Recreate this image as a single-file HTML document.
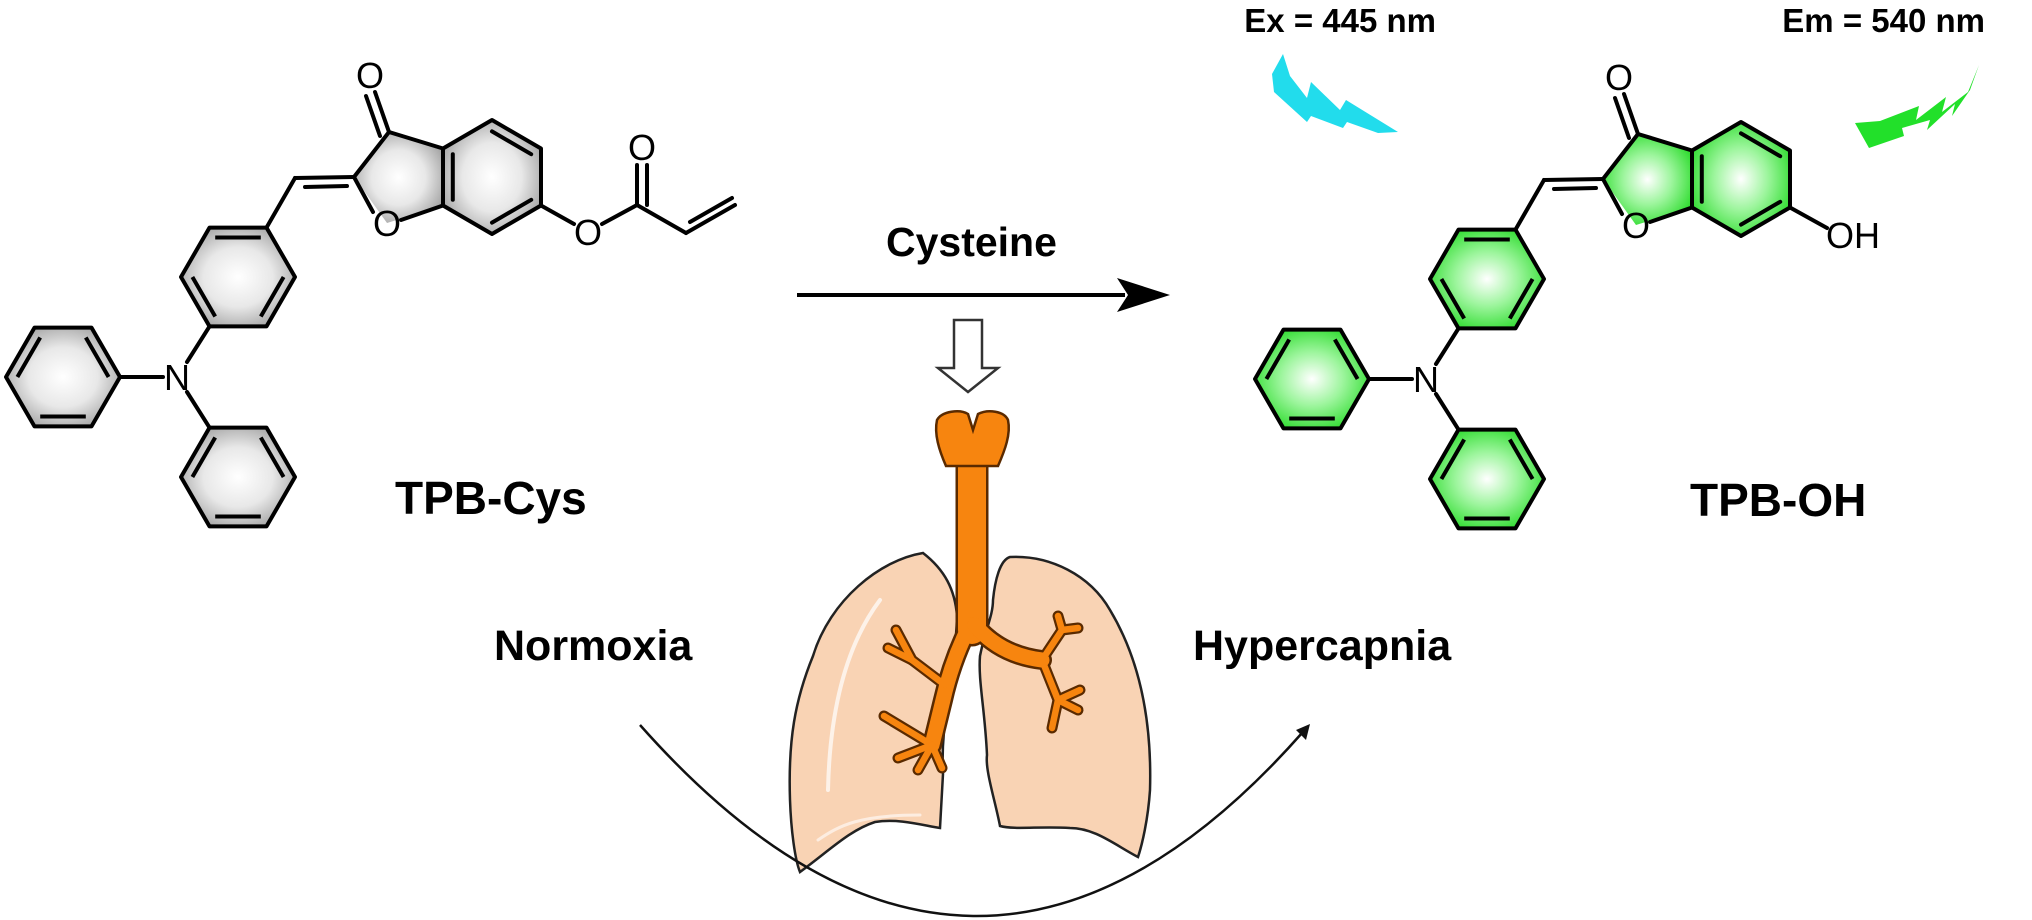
<!DOCTYPE html>
<html><head><meta charset="utf-8"><style>
html,body{margin:0;padding:0;background:#fff;}
svg{display:block;}
text{font-family:"Liberation Sans",Arial,sans-serif;}
</style></head><body>
<svg width="2032" height="920" viewBox="0 0 2032 920" xmlns="http://www.w3.org/2000/svg">
<defs>
  <radialGradient id="gg" cx="0.5" cy="0.5" r="0.55">
    <stop offset="0" stop-color="#ffffff"/><stop offset="0.55" stop-color="#e8e8e8"/><stop offset="1" stop-color="#a8a8a8"/>
  </radialGradient>
  <radialGradient id="gn" cx="0.5" cy="0.5" r="0.55">
    <stop offset="0" stop-color="#ffffff"/><stop offset="0.5" stop-color="#9cf59c"/><stop offset="1" stop-color="#33dd33"/>
  </radialGradient>
  <g id="hexlines" fill="none" stroke="#000" stroke-width="4" stroke-linejoin="round">
    <polygon points="28.5,-49.4 -28.5,-49.4 -57,0 -28.5,49.4 28.5,49.4 57,0"/>
    <line x1="22.8" y1="-39.5" x2="-22.8" y2="-39.5"/>
    <line x1="-45.6" y1="0" x2="-22.8" y2="39.5"/>
    <line x1="22.8" y1="39.5" x2="45.6" y2="0"/>
  </g>
  <g id="core">
    <g fill="none" stroke="#000" stroke-width="4" stroke-linejoin="round" stroke-linecap="round">
      <polygon points="492,120 541,148.5 541,205.5 492,234 443,205.5 443,148.5"/>
      <line x1="492" y1="131.4" x2="531.2" y2="154.2"/>
      <line x1="531.2" y1="199.8" x2="492" y2="222.6"/>
      <line x1="452.8" y1="199.8" x2="452.8" y2="154.2"/>
      <polyline points="443,148.5 389,132 354,177 373,212"/>
      <line x1="401" y1="220" x2="443" y2="205.5"/>
      <line x1="389" y1="132" x2="375" y2="92"/>
      <line x1="380" y1="136" x2="366" y2="96"/>
      <line x1="295" y1="178" x2="354" y2="177"/>
      <line x1="305" y1="187" x2="347" y2="186"/>
      <line x1="295" y1="178" x2="266.5" y2="227.6"/>
      <line x1="120" y1="377" x2="163" y2="377"/>
      <line x1="187" y1="362" x2="209.5" y2="326.4"/>
      <line x1="187" y1="392" x2="209.5" y2="427.6"/>
    </g>
    <text x="370" y="88" font-size="36" text-anchor="middle">O</text>
    <text x="387" y="236" font-size="36" text-anchor="middle">O</text>
    <text x="177" y="390" font-size="36" text-anchor="middle">N</text>
  </g>
  <g id="rings">
    <use href="#hexlines" transform="translate(238,277)"/>
    <use href="#hexlines" transform="translate(63,377) rotate(180)"/>
    <use href="#hexlines" transform="translate(238,477) rotate(180)"/>
  </g>
</defs>

<g fill="url(#gg)">
  <polygon points="28.5,-49.4 -28.5,-49.4 -57,0 -28.5,49.4 28.5,49.4 57,0" transform="translate(238,277)"/>
  <polygon points="28.5,-49.4 -28.5,-49.4 -57,0 -28.5,49.4 28.5,49.4 57,0" transform="translate(63,377)"/>
  <polygon points="28.5,-49.4 -28.5,-49.4 -57,0 -28.5,49.4 28.5,49.4 57,0" transform="translate(238,477)"/>
  <polygon points="492,120 541,148.5 541,205.5 492,234 443,205.5 443,148.5"/>
  <polygon points="443,148.5 389,132 354,177 387,223 443,205.5"/>
</g>
<use href="#rings"/>
<use href="#core"/>
<g fill="none" stroke="#000" stroke-width="4" stroke-linecap="round">
  <line x1="541" y1="205.5" x2="574" y2="224"/>
  <line x1="602" y1="224" x2="637" y2="205"/>
  <line x1="637" y1="205" x2="637" y2="165"/>
  <line x1="647" y1="205" x2="647" y2="165"/>
  <line x1="637" y1="205" x2="686" y2="233"/>
  <line x1="686" y1="233" x2="735" y2="205"/>
  <line x1="690" y1="222" x2="732" y2="198"/>
</g>
<text x="588" y="245" font-size="36" text-anchor="middle">O</text>
<text x="642" y="160" font-size="36" text-anchor="middle">O</text>
<text x="395" y="514" font-size="46" font-weight="bold">TPB-Cys</text>

<g transform="translate(1249,2)">
  <g fill="url(#gn)">
    <polygon points="28.5,-49.4 -28.5,-49.4 -57,0 -28.5,49.4 28.5,49.4 57,0" transform="translate(238,277)"/>
    <polygon points="28.5,-49.4 -28.5,-49.4 -57,0 -28.5,49.4 28.5,49.4 57,0" transform="translate(63,377)"/>
    <polygon points="28.5,-49.4 -28.5,-49.4 -57,0 -28.5,49.4 28.5,49.4 57,0" transform="translate(238,477)"/>
    <polygon points="492,120 541,148.5 541,205.5 492,234 443,205.5 443,148.5"/>
    <polygon points="443,148.5 389,132 354,177 387,223 443,205.5"/>
  </g>
  <use href="#rings"/>
  <use href="#core"/>
  <line x1="541" y1="205.5" x2="578" y2="226" stroke="#000" stroke-width="4" stroke-linecap="round"/>
</g>
<text x="1826" y="248" font-size="36">OH</text>
<text x="1690" y="516" font-size="46" font-weight="bold">TPB-OH</text>

<text x="1436" y="32" font-size="33" font-weight="bold" text-anchor="end">Ex = 445 nm</text>
<text x="1985" y="32" font-size="33" font-weight="bold" text-anchor="end">Em = 540 nm</text>
<polygon fill="#22dcec" points="1283,54 1290,76 1307,98 1311,82 1340,110 1346,100 1398,132 1378,133 1347,122 1343,128 1311,116 1307,122 1274,92 1272,74"/>
<polygon fill="#22e02a" points="1979,65 1968,92 1942,112 1946,97 1916,120 1919,106 1880,121 1855,123 1869,148 1904,136 1902,128 1930,120 1927,130 1955,104 1952,116 1970,90"/>

<text x="886" y="256" font-size="41" font-weight="bold">Cysteine</text>
<line x1="797" y1="295" x2="1125" y2="295" stroke="#000" stroke-width="4"/>
<polygon points="1170,295 1117,278 1128,295 1117,312" fill="#000"/>
<polygon points="954,320 982,320 982,368 998,368 968,392 938,368 954,368" fill="#fff" stroke="#333" stroke-width="2.5"/>

<path d="M923,553 C880,560 830,600 813,656 C795,700 788,740 790,800 C791,830 795,860 800,872 C830,850 850,830 875,822 C900,818 925,826 940,828 L943,774 C940,720 955,680 957,616 C955,590 945,570 923,553 Z" fill="#f9d3b4" stroke="#222" stroke-width="2.5"/>
<path d="M1010,557 C1050,555 1090,575 1110,610 C1140,660 1152,720 1150,790 C1148,820 1142,845 1138,857 C1115,845 1095,828 1070,828 C1040,826 1015,830 1000,826 C995,800 985,770 987,755 C985,710 978,680 980,656 C985,630 993,616 993,600 C995,580 1000,560 1010,557 Z" fill="#f9d3b4" stroke="#222" stroke-width="2.5"/>
<path d="M880,600 C850,640 830,700 828,790" fill="none" stroke="#fff" stroke-width="4" opacity="0.7" stroke-linecap="round"/>
<path d="M818,840 C840,825 860,815 920,815" fill="none" stroke="#fff" stroke-width="3" opacity="0.6" stroke-linecap="round"/>
<g fill="none" stroke="#5a2a00" stroke-linecap="round" stroke-linejoin="round">
  <line x1="972" y1="460" x2="972" y2="630" stroke-width="33"/>
  <path d="M970,625 Q952,660 943,700 L932,745" stroke-width="20"/>
  <path d="M975,625 Q1000,655 1042,660" stroke-width="20"/>
  <g stroke-width="11">
    <path d="M945,685 L912,660 L896,630"/><path d="M912,660 L888,648"/>
    <path d="M932,745 L884,716"/><path d="M932,745 L898,758"/><path d="M932,745 L918,770"/><path d="M932,745 L942,768"/>
    <path d="M1042,660 L1062,630 L1058,616"/><path d="M1062,630 L1078,628"/>
    <path d="M1042,660 L1058,700 L1052,728"/><path d="M1058,700 L1078,710"/><path d="M1058,700 L1080,690"/>
  </g>
</g>
<g fill="none" stroke="#f7850f" stroke-linecap="round" stroke-linejoin="round">
  <line x1="972" y1="460" x2="972" y2="630" stroke-width="28"/>
  <path d="M970,625 Q952,660 943,700 L932,745" stroke-width="15"/>
  <path d="M975,625 Q1000,655 1042,660" stroke-width="15"/>
  <g stroke-width="6.5">
    <path d="M945,685 L912,660 L896,630"/><path d="M912,660 L888,648"/>
    <path d="M932,745 L884,716"/><path d="M932,745 L898,758"/><path d="M932,745 L918,770"/><path d="M932,745 L942,768"/>
    <path d="M1042,660 L1062,630 L1058,616"/><path d="M1062,630 L1078,628"/>
    <path d="M1042,660 L1058,700 L1052,728"/><path d="M1058,700 L1078,710"/><path d="M1058,700 L1080,690"/>
  </g>
</g>
<path d="M937,420 C942,411 960,409 968,414 L973,430 L978,414 C988,409 1004,411 1008,420 C1011,434 1005,450 998,466 L946,466 C939,450 934,434 937,420 Z" fill="#f7850f" stroke="#5a2a00" stroke-width="2.5"/>

<path d="M640,725 Q975,1103 1302,733" fill="none" stroke="#111" stroke-width="2.5"/>
<polygon points="1310,724 1296,730 1306,740" fill="#111"/>
<text x="494" y="660" font-size="43" font-weight="bold">Normoxia</text>
<text x="1193" y="660" font-size="43" font-weight="bold">Hypercapnia</text>
</svg>
</body></html>
